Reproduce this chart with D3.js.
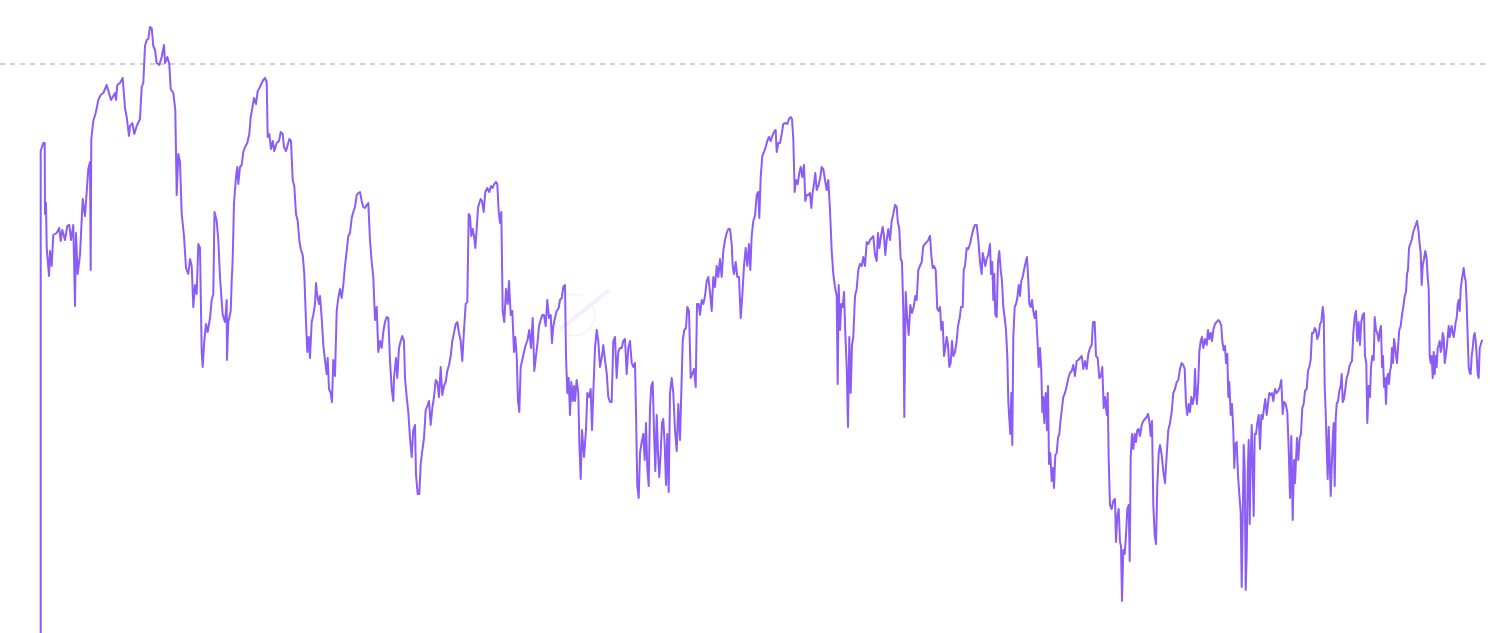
<!DOCTYPE html>
<html>
<head>
<meta charset="utf-8">
<script src="https://cdn.jsdelivr.net/npm/d3@7"></script>
<style>
  html, body { margin: 0; padding: 0; background: #ffffff; overflow: hidden; }
  svg { display: block; }
</style>
</head>
<body>
<svg id="chart" width="1490" height="633"></svg>
<script>
// ---- data: [day index, level] ----
const seg1 = [[0.7,0],[0.7,482],[3.3,490],[4.7,490],[5,419],[6,430],[6.7,385],[9,357],[10,382],[11.7,367],[13.3,398],[16.7,400],[19.3,405],[20.7,392],[22.3,403],[25,393],[27.3,407],[29.3,408],[31,393],[33.3,408],[35,327],[36,400],[37.7,359],[40,378],[42.7,434],[45,417],[46.7,441],[48.3,464],[50,471],[50.7,363],[51.3,494],[53.3,512],[55.7,520],[58.3,533],[60.7,538],[63.3,540],[66.7,548],[69,540],[71,533],[73.3,537],[75,540],[76,533],[77.3,548],[80,550],[82.7,555],[85,525],[86.7,516],[89,497],[90,507],[92.3,510],[94.3,499],[96.7,507],[100,514],[101.7,546],[103.3,550],[105,587],[106.7,593],[108.3,594],[110,606],[111.7,605],[113.3,587],[115,583],[116.7,570],[119.3,568],[121.7,576],[124,588],[125,570],[127.3,576],[129.3,569],[130.7,544],[133.3,540],[135.3,523],[136.7,438],[138.3,479],[140,471],[141.7,419],[144,397],[146,365],[148.3,359],[150,374],[151.7,367],[153.3,326],[155,348],[156.7,339],[158.3,389],[160,385],[161.7,281],[162.7,266],[164.3,292],[166,309],[167.7,301],[170,315],[171.7,333],[173.3,339],[174.5,421]];
const seg2 = [[176.7,412],[178.3,393],[180,356],[182.7,318],[185,311],[186.7,333],[187,273],[188.3,311],[190.7,322],[191.7,352],[192.7,374],[194,430],[196,456],[197.3,466],[198.3,449],[200,466],[201.7,468],[203.3,481],[205,486],[207.3,490],[209.3,499],[210.7,516],[212.7,527],[214,535],[216,529],[217.7,542],[220,546],[221.7,550],[223.3,553],[225,555],[226.7,551],[227.7,496],[229.3,499],[231,484],[232.7,492],[234.3,482],[236.7,490],[239,492],[240.7,501],[242.7,499],[244,486],[246,482],[247.7,488],[249.3,494],[251,492],[252.7,453],[254.3,447],[256,419],[257.7,412],[259.3,393],[260.7,384],[262.7,378],[264.3,359],[266,311],[267.3,281],[268.7,296],[270,275],[271.7,311],[273.3,318],[275,329],[276,350],[277.3,337],[279,329],[280,337],[281.7,315],[283.3,288],[285.3,270],[286.7,259],[287.7,275],[289,244],[290.7,240],[292,231],[293.3,273],[295,257],[296.7,322],[298.3,335],[300,344],[301.7,335],[303.3,348],[305,367],[306.7,382],[308.3,397],[310,400],[311.7,415],[313.3,421],[315,426],[316.7,438],[318.3,440],[320,441],[321.7,432],[323.3,426],[325,425],[326.7,428],[328.3,430],[330,393],[331.7,371],[333.3,356],[335,313],[336.7,326],[338.3,281],[340,292],[341.7,285],[343.3,301],[345,311],[346.7,316],[348.3,315],[350,273],[351.7,244],[353.3,232]];
const seg3 = [[354,255],[356,275],[357.3,255],[359,285],[360.7,292],[362.3,297],[364,292],[365,255],[366.7,236],[368.3,221],[370,195],[371.7,176],[373.3,203],[375,208],[376,158],[377.7,139],[379.3,139],[380.7,169],[382,180],[384,195],[385.7,223],[387.3,227],[389,232],[390.7,208],[392.3,225],[394,236],[395.7,253],[397.3,251],[399,236],[400.7,266],[402.3,238],[404,247],[405.7,251],[407.3,262],[409,268],[410.7,277],[412.3,292],[414,300],[415.7,309],[417.3,311],[419,300],[420.7,292],[422.3,272],[424,303],[425.7,329],[427.3,331],[428.7,419],[430,417],[431.3,397],[432.7,404],[434,397],[435.3,385],[436.7,404],[438,425],[439.3,430],[440.7,434],[442,432],[443.7,421],[445.3,441],[447.3,445],[449.3,441],[451,447],[452.7,445],[454.3,449],[456,451],[457.3,449],[458.7,421],[460,410],[461.3,421],[462.7,322],[464.3,311],[466,344],[467.7,329],[469,352],[470.7,318],[472.3,322],[474,281],[475.3,296],[476.7,277],[478,232],[479.3,221],[480.7,266],[482.3,273],[484,281],[485.7,288],[487.3,292],[489.3,303],[491,285],[492.7,315],[494.3,262],[496,277],[497.7,292],[499,307],[500.7,313],[502.3,318],[504,318],[505.7,307],[507.3,333],[509,315],[510.7,318],[512,290],[513.3,307],[515,315],[516.7,322],[518.7,325],[520,333],[521.7,335],[523.3,346],[525,348],[526,277],[527.3,240],[528.7,255],[530,218],[531.3,251],[532.7,232],[534,247]];
const seg4 = [[535,232],[536.7,253],[538.3,240],[539.3,191],[540.7,154],[542,203],[544,176],[546,203],[547.3,240],[549.3,236],[550.7,244],[552,203],[553.3,240],[555,285],[556.7,303],[558.3,292],[560,266],[562,277],[563.3,288],[565,273],[566.7,260],[568.3,236],[570,231],[571.7,231],[573.3,292],[575,296],[576.7,255],[578.3,281],[580,285],[581.7,285],[583.3,292],[585,294],[586.7,259],[588.3,285],[590,292],[591.7,270],[593.3,266],[595,270],[596,221],[597.3,147],[598.7,135],[600,180],[601.7,191],[603.3,199],[604.7,173],[606,210],[607.3,165],[608.7,147],[610,225],[611.3,247],[612.7,251],[614,203],[615.3,162],[616.7,218],[618,180],[619.3,156],[620.7,180],[622,210],[623.3,214],[624.7,188],[626,148],[627.3,199],[628.7,141],[630,240],[631.7,255],[633.3,240],[635,203],[636.7,182],[638.3,229],[640,193],[641.3,240],[642.7,292],[644.3,303],[646,305],[647.3,326],[649,322],[650.7,255],[652.3,259],[654,264],[655.7,246],[657,329],[658.7,329],[660,318],[661.7,333],[663.3,329],[665,337],[666.7,352],[668.3,356],[670,341],[671.7,322],[673.3,356],[675,346],[676.7,367],[678.3,356],[680,374],[681.7,356],[683.3,382],[685,393],[686.7,400],[688.3,404],[690,404],[691.7,389],[692.7,367],[694,359],[695.7,371],[697.3,356],[699,356],[700.7,315],[702.3,337],[704,367],[705.7,385],[707.3,367],[709,389],[710.3,363],[711.7,397],[713.3,412]];
const seg5 = [[715,417],[716.7,438],[718.3,441],[719.3,415],[720.7,456],[722.3,477],[724,481],[725.7,486],[727.3,492],[729,496],[730.7,492],[732.3,497],[734,501],[735.7,503],[736.7,481],[738.3,490],[740,490],[741.7,499],[743.3,509],[745.7,510],[747.3,509],[749,514],[750.7,516],[752,514],[753.3,494],[754.7,441],[756,453],[757.7,449],[759.3,460],[760.7,466],[762.3,456],[764,468],[765.3,432],[766.7,438],[768.3,438],[770,440],[771.3,425],[772.7,441],[774,449],[775.3,460],[776.7,443],[778.3,447],[780,454],[781.7,466],[783.3,464],[785,453],[786.7,443],[788.3,453],[790,423],[791.7,382],[793.3,359],[795,346],[796.7,337],[797.7,249],[798.7,348],[800,303],[801.3,329],[802.7,326],[804,341],[805.3,300],[806.7,266],[808,206],[809.3,296],[810.7,240],[812,288],[813.3,296],[815,337],[816.7,344],[818.3,363],[820,369],[821.7,367],[823.3,376],[825,367],[826.7,391],[828.3,389],[830,393],[831.7,395],[833.3,397],[835,378],[836.7,372],[838,400],[839.3,385],[841,397],[842.7,406],[844,397],[845.3,378],[846.7,393],[848.3,404],[850,393],[851.7,412],[853.3,419],[855,428],[856.7,426],[857.7,412],[859.3,404],[860.7,374],[862,371],[863.3,322],[864.3,216],[865.7,341],[867,318],[868.7,298],[870.3,328],[872,320],[873.7,326],[875.3,337],[876.7,333],[878.3,363],[880,367],[881.7,371],[883.3,387],[885,389],[886.7,391],[888.3,393],[890,397]];
const seg6 = [[891.3,378],[892.7,365],[894,367],[895.7,363],[897.3,324],[898.7,322],[900,326],[901.3,303],[902.7,311],[904,277],[905.3,285],[906.7,296],[908,288],[909.3,266],[910.7,270],[912,292],[913.3,277],[915,281],[916.7,292],[918,307],[919.7,315],[921,326],[922.7,326],[923.7,363],[925,367],[926.7,385],[928.3,384],[930,389],[931.7,397],[933.3,404],[935,408],[936.7,408],[938.3,393],[940,371],[941.7,359],[942.7,380],[944,374],[945.3,367],[946.7,374],[948.3,378],[950,389],[951,359],[952.3,371],[953.3,333],[954.3,359],[955.3,318],[956.7,316],[958,371],[959.3,382],[960.7,363],[962,352],[963.3,326],[964.7,315],[966,303],[967.3,277],[968.3,232],[969.3,214],[970.3,199],[971.3,240],[972.3,188],[973.3,296],[974.7,326],[976,329],[977.3,335],[978.7,348],[980,337],[981.3,352],[982.7,356],[984,363],[985.7,371],[987,376],[988.3,352],[989.3,329],[990.7,326],[992,333],[993.3,322],[994.7,315],[996,322],[997.3,296],[998.7,266],[1000,285],[1001.3,262],[1002.3,221],[1003.3,236],[1004.3,210],[1005.7,240],[1007,203],[1008,247],[1009,169],[1010.3,180],[1011.7,152],[1013,165],[1014,145],[1015.3,178],[1016.7,180],[1018,195],[1019.3,199],[1020.7,214],[1022,225],[1023.3,236],[1025,240],[1026.7,247],[1028.3,255],[1030,260],[1031.7,262],[1033.3,268],[1035,257],[1036.7,272],[1038.3,273],[1040,275],[1041.7,277],[1043.3,264],[1045,272],[1046.7,264],[1048.3,279],[1050,285],[1051.7,288],[1053,311],[1054.7,311],[1056,277],[1057.7,275],[1059.3,255],[1061,257],[1062.3,266],[1063.7,225],[1065,236],[1066.7,218],[1067.7,240],[1068.7,173],[1070,128],[1071.7,124],[1073.3,132]];
const seg7 = [[1075,134],[1076,91],[1077.3,117],[1078.7,124],[1080,91],[1081,87],[1082,32],[1083.3,83],[1084.7,79],[1086,98],[1087.3,124],[1088.7,128],[1089.7,72],[1090.7,176],[1092,199],[1093.3,184],[1094.7,199],[1096,191],[1097.3,203],[1098.7,204],[1100,197],[1101.7,208],[1103.3,212],[1105,214],[1106.7,216],[1108,219],[1109.3,212],[1110.7,197],[1112,212],[1113.3,128],[1114.7,98],[1116,89],[1117.3,147],[1118.7,180],[1120,188],[1121.7,178],[1123.3,162],[1125,150],[1126.7,178],[1128.3,203],[1130,210],[1131.7,221],[1133.3,240],[1135,244],[1136.7,251],[1138.3,253],[1140,264],[1141.7,270],[1143.3,268],[1144.7,264],[1146,229],[1147.3,218],[1148.7,229],[1150,221],[1151.3,236],[1152.7,229],[1154,236],[1155,264],[1156,240],[1157,229],[1158.3,251],[1159.3,281],[1160.7,292],[1162,296],[1163.3,285],[1165,294],[1166.7,288],[1168,303],[1169.3,294],[1170.7,300],[1172,292],[1173.3,303],[1175,309],[1176.7,311],[1178.3,313],[1180,311],[1181.3,307],[1182.3,292],[1183.7,283],[1185,287],[1186,270],[1187.3,279],[1188.3,236],[1189.3,251],[1190.7,218],[1192,229],[1193.3,203],[1194.3,165],[1195.3,188],[1196.7,191],[1198,158],[1199.3,139],[1200.7,121],[1201.7,46],[1202.7,113],[1203.7,188],[1204.7,165],[1205.7,43],[1206.7,79],[1207.7,158],[1208.7,193],[1209.7,109],[1210.7,173],[1211.7,208],[1212.7,165],[1213.7,117],[1214.7,199],[1216,199],[1217.3,210],[1218.7,218],[1220,184],[1221.3,218],[1222.7,214],[1224,225],[1225.3,234],[1226.7,218],[1228,229],[1229.3,240],[1230.7,238],[1232,240],[1233.3,232],[1235,244],[1236.7,240],[1238.3,242],[1240,247],[1241.3,253],[1242.7,219],[1244,231],[1245.7,229],[1247.3,221],[1248.7,184],[1250,135],[1251.3,197],[1252.7,113],[1254,173]];
const seg8 = [[1255,150],[1256,173],[1257,195],[1258.3,173],[1259.7,195],[1261,199],[1262.3,225],[1263.7,229],[1265,242],[1266.7,244],[1268,262],[1269.3,266],[1270.7,273],[1272,300],[1273.3,300],[1274.7,305],[1276,303],[1277.3,294],[1278.7,298],[1280,309],[1281.3,311],[1282.7,326],[1283.7,318],[1284.7,246],[1285.7,221],[1286.7,184],[1287.7,154],[1288.7,206],[1289.7,173],[1290.7,137],[1291.7,165],[1292.7,195],[1293.7,210],[1294.7,147],[1295.7,214],[1296.7,229],[1298,232],[1299.3,242],[1300.7,247],[1301.7,259],[1302.7,231],[1304,234],[1305.3,244],[1306.7,255],[1308,259],[1309.3,266],[1310.7,270],[1312,272],[1313.3,300],[1314.7,316],[1316,322],[1317.3,292],[1318.7,311],[1320,288],[1321.3,311],[1322.7,318],[1324,320],[1325,277],[1326.3,270],[1327.3,210],[1328.7,247],[1330,236],[1331,266],[1332.3,277],[1333.7,273],[1334.7,316],[1336,303],[1337.3,300],[1338.7,292],[1340,303],[1341,307],[1342,266],[1343,277],[1344,246],[1345,255],[1346,229],[1347,255],[1348,259],[1349,249],[1350,262],[1351,266],[1352,285],[1353,270],[1354,294],[1355,288],[1356,277],[1357,270],[1358,285],[1359.3,303],[1360.7,307],[1362,318],[1363.3,326],[1364.7,337],[1366,341],[1367,359],[1368,363],[1369,385],[1370.3,389],[1371.7,393],[1373,400],[1374.3,404],[1375.7,408],[1377,412],[1378.3,404],[1379.7,389],[1380.7,380],[1381.7,348],[1382.7,367],[1384,374],[1385.3,382],[1386.7,374],[1387.7,356],[1388.7,344],[1389.7,277],[1390.7,270],[1391.7,277],[1392.7,255],[1393.7,281],[1394.7,259],[1395.7,277],[1396.7,266],[1397.7,285],[1398.7,288],[1399.7,292],[1400.7,281],[1401.7,285],[1402.7,300],[1403.7,296],[1404.7,270],[1405.7,277],[1406.7,285],[1407.7,296],[1408.7,307],[1409.7,296],[1410.7,303],[1411.7,307],[1412.7,300],[1413.7,296],[1414.7,303],[1415.7,311],[1416.7,315],[1417.7,329],[1418.7,333],[1419.7,322],[1420.7,344],[1421.7,352],[1422.7,359],[1423.7,365],[1424.7,356],[1425.7,352],[1426.7,329],[1427.7,296],[1428.7,266],[1429.7,260],[1430.7,259],[1431.7,277],[1432.7,285],[1433.7,296],[1434.7,300],[1435.7,292],[1436.7,277],[1437.7,259],[1438.7,255],[1439.7,285],[1440.7,288],[1441.7,292],[1442.7,293]];
const referenceLevel = 569;
const dayDomain = [0, 1443];
const levelDomain = [0, 633];

// ---- layout ----
const W = 1490, H = 633;
const svg = d3.select("#chart");

const x = d3.scaleLinear().domain(dayDomain).range([40, 1483]);
const y = d3.scaleLinear().domain(levelDomain).range([H, 0]);

const series = [].concat(seg1, seg2, seg3, seg4, seg5, seg6, seg7, seg8);

// faint watermark
const wm = svg.append("g").attr("opacity", 0.45);
wm.append("path")
  .attr("d", d3.arc()({innerRadius: 20, outerRadius: 21.5, startAngle: 0.35 * Math.PI, endAngle: 2.15 * Math.PI}))
  .attr("transform", "translate(574,315)")
  .attr("fill", "#e6e6f0");
wm.append("line")
  .attr("x1", 562).attr("y1", 328).attr("x2", 608).attr("y2", 291)
  .attr("stroke", "#e6def8").attr("stroke-width", 4).attr("stroke-linecap", "round");

// reference dashed line
svg.append("line")
  .attr("x1", 0).attr("x2", W)
  .attr("y1", y(referenceLevel)).attr("y2", y(referenceLevel))
  .attr("stroke", "#a3a3a3")
  .attr("stroke-width", 1)
  .attr("stroke-dasharray", "5,5");

// main line
const line = d3.line()
  .x(d => x(d[0]))
  .y(d => y(d[1]));

svg.append("path")
  .datum(series)
  .attr("fill", "none")
  .attr("stroke", "#8b5cf6")
  .attr("stroke-width", 2)
  .attr("stroke-linejoin", "round")
  .attr("d", line);
</script>
</body>
</html>
